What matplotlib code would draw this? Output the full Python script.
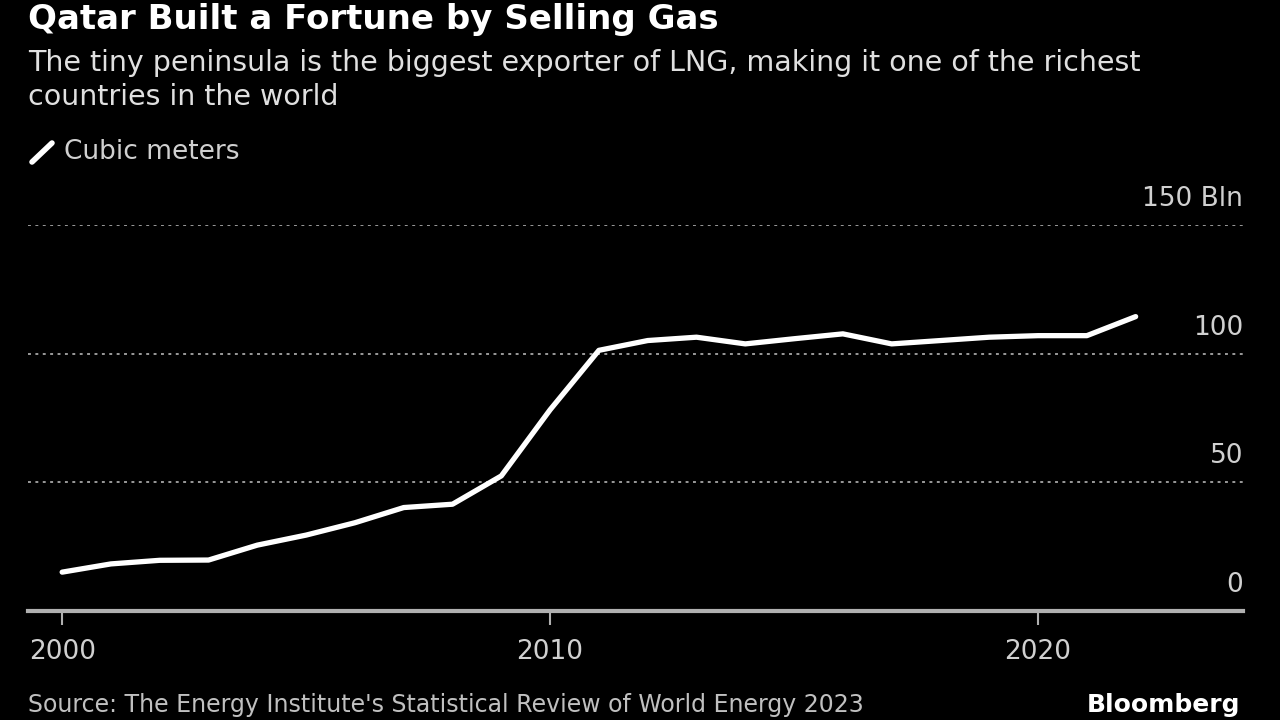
import matplotlib
matplotlib.use('Agg')
import matplotlib.pyplot as plt
import matplotlib.transforms as mtransforms

years = list(range(2000, 2023))
cubic_meters = [15.1, 18.3, 19.7, 19.8, 25.6, 29.5, 34.3, 40.2, 41.5, 52.5, 78.2, 101.3,
                105.1, 106.4, 103.8, 105.8, 107.7, 103.8, 105.1, 106.4, 107.0, 107.0, 114.4]
y_ticks = [0, 50, 100, 150]
y_labels = ['0', '50', '100', '150 Bln']
x_ticks = [2000, 2010, 2020]

plt.rcParams['font.family'] = ['DejaVu Sans']

fig = plt.figure(figsize=(12.8, 7.2), dpi=100, facecolor='black')
ax = fig.add_axes([28 / 1280, 1 - 611 / 720, (1243 - 28) / 1280, (611 - 225) / 720])
ax.set_facecolor('black')

ax.plot(years, cubic_meters, color='white', lw=3.8, solid_capstyle='round', solid_joinstyle='round', zorder=3)

ax.set_xlim(1999.3, 2024.2)
ax.set_ylim(0, 150)

# dotted gridlines, labels sit above the lines on the right
for t in y_ticks[1:]:
    ax.axhline(t, color='#9a9a9a', lw=1.4, ls=(0, (1.5, 2.3)), zorder=1)
trans = mtransforms.blended_transform_factory(ax.transAxes, ax.transData)
for t, lab in zip(y_ticks, y_labels):
    ax.text(1.0, t + 5, lab, transform=trans, ha='right', va='bottom', color='#d0d0d0', fontsize=19)

for s in ['top', 'right', 'left']:
    ax.spines[s].set_visible(False)
ax.spines['bottom'].set_color('#b0b0b0')
ax.spines['bottom'].set_linewidth(3)
ax.set_yticks([])
ax.set_xticks(x_ticks)
ax.set_xticklabels([str(x) for x in x_ticks])
ax.tick_params(axis='x', colors='#b0b0b0', length=10, width=1.5, pad=10, labelsize=19,
               labelcolor='#d0d0d0')

fig.text(28 / 1280, 1 - 20 / 720, 'Qatar Built a Fortune by Selling Gas', color='white',
         fontsize=24.5, fontweight='bold', va='center')
fig.text(28 / 1280, 1 - 63 / 720,
         'The tiny peninsula is the biggest exporter of LNG, making it one of the richest',
         color='#e0e0e0', fontsize=20.5, va='center')
fig.text(28 / 1280, 1 - 97 / 720, 'countries in the world', color='#e0e0e0', fontsize=20.5, va='center')

# legend
fig.add_artist(plt.Line2D([32 / 1280, 52 / 1280], [1 - 162 / 720, 1 - 143 / 720], color='white',
                          lw=4, solid_capstyle='round'))
fig.text(64 / 1280, 1 - 152 / 720, 'Cubic meters', color='#d0d0d0', fontsize=19, va='center')

fig.text(28 / 1280, 1 - 705 / 720, "Source: The Energy Institute's Statistical Review of World Energy 2023",
         color='#c0c0c0', fontsize=17, va='center')
fig.text(1240 / 1280, 1 - 705 / 720, 'Bloomberg', color='white', fontsize=18, fontweight='bold',
         ha='right', va='center')

fig.savefig('out.png', dpi=100, facecolor='black')
